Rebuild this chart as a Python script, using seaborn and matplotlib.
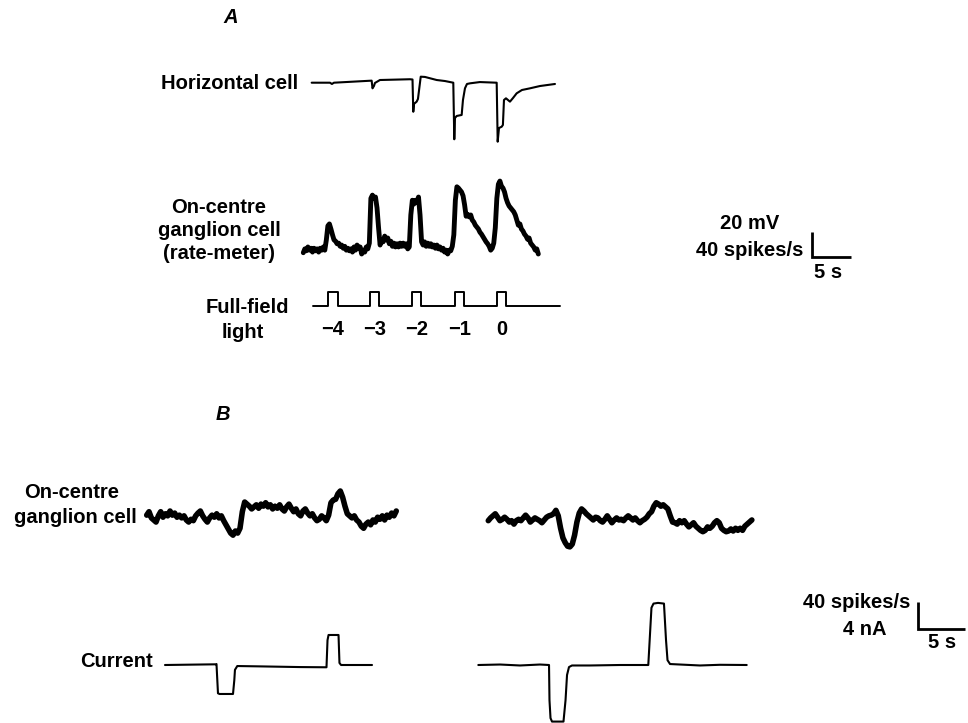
import numpy as np
import matplotlib
matplotlib.use("Agg")
import matplotlib.pyplot as plt
import seaborn as sns
from matplotlib.transforms import blended_transform_factory

# ---------------- DATA ----------------
# Panel A (time in s)
hc_t = [1.09, 3.47, 3.73, 3.99, 8.9, 9.01, 9.2, 9.33, 9.98, 13.89, 14.22, 14.32, 14.41,
        14.76, 14.93, 15.29, 15.84, 17.37, 18.45, 19.53, 19.66, 19.75, 19.97, 20.62, 20.79,
        21.05, 21.31, 21.7, 22.99, 25.18, 25.31, 25.48, 25.83, 25.99, 26.13, 26.39, 26.91,
        27.3, 27.78, 28.47, 29.51, 30.81, 32.77]
hc_mv = [0, 0, -1.0, 0, 1.6, -4.4, -2.6, -0.2, 2.1, 2.7, 2.5, -22.7, -16.6,
         -14.8, -12.7, 4.7, 4.5, 2.1, 1.3, 0, -44.2, -27.6, -26, -25.2, -13.5,
         -4.4, -1, -0.5, 0.5, 0, -46.1, -35.4, -34.4, -33, -13.5, -12.2, -14.8,
         -12, -8.3, -5.7, -4.4, -2.6, -1.0]

gA_dt = 0.2  # rate-meter sample interval (s)
gA_rate = [27, 33, 30, 36, 31, 34, 28, 34, 30, 33, 28, 34, 31, 36, 31,
           47, 69, 72, 64, 55, 47, 45, 41, 42, 37, 39, 34, 37, 31, 34, 30, 33, 28, 36, 31,
           39, 34, 36, 25, 31, 28, 36, 33, 42,
           112, 117, 112, 114, 97, 66, 39, 47, 44, 53, 47, 50, 41, 45, 37, 42, 36, 41, 36,
           42, 37, 42, 37, 41, 33, 36,
           86, 109, 103, 109, 105, 114, 86, 44, 39, 44, 37, 42, 37, 41, 36, 39, 34, 39, 33,
           36, 31, 34, 28, 31, 25, 31, 30, 37, 55,
           109, 130, 128, 125, 122, 116, 102, 84, 87, 83, 86, 78, 75, 70, 67, 64, 59, 56,
           52, 48, 44, 41, 37, 31, 34, 42, 66,
           112, 134, 139, 131, 128, 122, 112, 105, 100, 97, 94, 91, 86, 78, 70, 72, 64, 61,
           56, 53, 48, 50, 42, 39, 36, 31, 33, 25]

light_start, light_end = 1.3, 33.42
light_on = [3.18, 8.68, 14.11, 19.75, 25.18]
light_off = [4.56, 9.9, 15.29, 20.92, 26.39]
light_labels = ["\u22124", "\u22123", "\u22122", "\u22121", "0"]

# Panel B (time in s)
gB_dt = 0.25
gBL_rate = [65, 70, 61, 58, 55, 64, 70, 62, 67, 64, 71, 65, 68, 62, 65, 61, 64, 58, 55, 59,
            57, 64, 68, 71, 64, 59, 55, 61, 65, 62, 67, 61, 64, 57, 51, 45, 39, 36, 42, 39,
            46, 70, 84, 81, 78, 74, 77, 80, 75, 81, 78, 83, 77, 80, 74, 78, 75, 80, 74, 71,
            77, 81, 75, 70, 74, 67, 64, 71, 74, 68, 64, 67, 61, 57, 59, 64, 61, 57, 65, 83,
            87, 88, 96, 100, 91, 78, 67, 64, 61, 64, 58, 55, 49, 46, 52, 55, 51, 58, 55, 62,
            59, 64, 58, 65, 62, 68, 64, 71]
gBR_start = 1.07
gBR_rate = [57, 61, 64, 67, 62, 57, 59, 62, 59, 55, 57, 52, 57, 59, 57, 61, 65, 61, 55, 58,
            61, 59, 57, 54, 58, 62, 64, 65, 67, 72, 64, 46, 32, 25, 20, 19, 23, 36, 55, 68,
            74, 71, 67, 64, 61, 58, 62, 61, 57, 55, 59, 64, 59, 54, 58, 61, 58, 59, 57, 61,
            64, 61, 58, 61, 57, 54, 57, 59, 62, 67, 70, 78, 83, 81, 78, 80, 77, 74, 64, 55,
            54, 52, 57, 54, 57, 52, 48, 51, 54, 49, 46, 43, 41, 43, 48, 46, 49, 54, 57, 54,
            46, 43, 41, 42, 45, 42, 46, 43, 46, 43, 49, 52, 55, 58]

curL_t = [1.96, 4.64, 7.43, 7.48, 7.64, 7.8, 9.25, 9.39, 9.46, 9.71, 12.14, 16.43, 19.27,
          19.38, 19.49, 20.56, 20.66, 20.83, 24.15]
curL_na = [0, 0.05, 0.1, 0.14, -4.1, -4.2, -4.2, -2.2, -0.7, -0.15, -0.2, -0.3, -0.33,
           3.6, 4.35, 4.35, 0.3, 0, 0]
curR_t = [0, 2.33, 4.47, 6.61, 7.58, 7.63, 7.74, 7.9, 9.13, 9.35, 9.51, 9.72, 10.04, 11.97,
          15.19, 18.22, 18.56, 18.78, 19.26, 19.9, 20.12, 20.28, 20.55, 23.76, 25.9, 28.77]
curR_na = [0, 0.07, -0.07, 0.07, 0, -5.1, -7.7, -8.2, -8.2, -5.1, -1.45, -0.3, -0.07, -0.07,
           0, 0, 8.3, 8.9, 9.0, 8.9, 3.6, 0.7, 0.14, -0.07, 0.03, 0]

# ---------------- LAYOUT ----------------
W, H = 968, 723
SX_A, SY_A_SPK, SY_A_MV, SY_A_LIGHT = 7.68, 0.64, 1.28, 14.3
SX_B, SY_B_SPK, SY_B_NA = 9.33, 0.69, 6.9

sns.set_theme(style="white")
plt.rcParams["font.family"] = ["Liberation Sans", "DejaVu Sans"]
plt.rcParams["text.color"] = "black"

fig = plt.figure(figsize=(W / 100, H / 100), dpi=100)
fig.patch.set_facecolor("white")

axp = fig.add_axes([0, 0, 1, 1])
axp.set_xlim(0, W)
axp.set_ylim(H, 0)
axp.axis("off")


def trace_axes(x0, y0, sx, sy):
    ax = fig.add_axes([0, 0, 1, 1])
    ax.set_xlim(-x0 / sx, (W - x0) / sx)
    ax.set_ylim((y0 - H) / sy, y0 / sy)
    ax.axis("off")
    ax.patch.set_alpha(0)
    return ax


def line(ax, x, y, lw):
    sns.lineplot(x=np.asarray(x, float), y=np.asarray(y, float), ax=ax, color="black",
                 linewidth=lw, estimator=None, sort=False)


# Panel A traces
ax_hc = trace_axes(303.3, 82.7, SX_A, SY_A_MV)
line(ax_hc, hc_t, hc_mv, 1.5)

ax_gA = trace_axes(303.3, 270, SX_A, SY_A_SPK)
line(ax_gA, np.arange(len(gA_rate)) * gA_dt, gA_rate, 3.5)

ax_li = trace_axes(303.3, 306, SX_A, SY_A_LIGHT)
lt, lv = [light_start], [0]
for a, b in zip(light_on, light_off):
    lt += [a, a, b, b]
    lv += [0, 1, 1, 0]
lt.append(light_end)
lv.append(0)
line(ax_li, lt, lv, 1.4)
trL = blended_transform_factory(ax_li.transData, axp.transData)
for a, b, lab in zip(light_on, light_off, light_labels):
    ax_li.text((a + b) / 2, 335, lab, transform=trL, ha="center", va="baseline",
               fontsize=14.5, fontweight="bold", color="black")

# Panel B traces
ax_gBL = trace_axes(146.7, 560, SX_B, SY_B_SPK)
line(ax_gBL, np.arange(len(gBL_rate)) * gB_dt, gBL_rate, 4.0)
ax_gBR = trace_axes(478.3, 560, SX_B, SY_B_SPK)
line(ax_gBR, gBR_start + np.arange(len(gBR_rate)) * gB_dt, gBR_rate, 4.0)

ax_cL = trace_axes(146.7, 665, SX_B, SY_B_NA)
line(ax_cL, curL_t, curL_na, 1.5)
ax_cR = trace_axes(478.3, 665, SX_B, SY_B_NA)
line(ax_cR, curR_t, curR_na, 1.5)

# Scale bars
def scale_bar(cx, cy, vlen, hlen):
    axp.plot([cx, cx, cx + hlen], [cy - vlen, cy, cy], color="black", lw=2.0,
             solid_joinstyle="miter", solid_capstyle="butt")

scale_bar(812.3, 257.3, 40 * SY_A_SPK, 5 * SX_A)
scale_bar(918.3, 629.3, 40 * SY_B_SPK, 5 * SX_B)

# Texts
FS = 14.5
def txt(x, y, s, ha="center", **kw):
    axp.text(x, y, s, ha=ha, va="baseline", fontsize=FS, fontweight="bold",
             color="black", **kw)

txt(230.7, 22.7, "A", fontstyle="italic")
txt(298.3, 89.3, "Horizontal cell", ha="right")
txt(219, 213, "On-centre")
txt(219, 236, "ganglion cell")
txt(219, 259, "(rate-meter)")
txt(247.5, 312.7, "Full-field")
txt(242.5, 338, "light")
txt(750, 229.3, "20 mV")
txt(750, 256, "40 spikes/s")
txt(828.3, 277.7, "5 s")

txt(223.3, 420, "B", fontstyle="italic")
txt(71.7, 498.3, "On-centre")
txt(75, 523.3, "ganglion cell")
txt(80, 667.3, "Current", ha="left")
txt(856.7, 608.3, "40 spikes/s")
txt(865, 635, "4 nA")
txt(941.7, 648.3, "5 s")

fig.savefig("out.png", dpi=100, facecolor="white")
